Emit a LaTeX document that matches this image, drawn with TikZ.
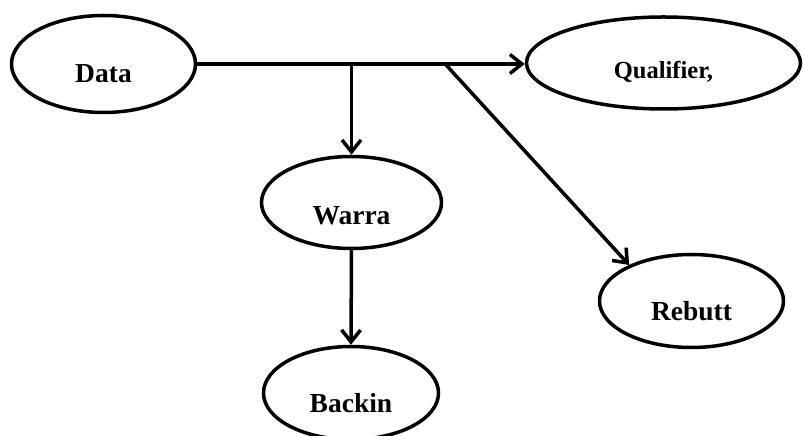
\documentclass[tikz,border=0pt]{standalone}
\usepackage{fontspec}
\setmainfont{Liberation Serif}
\usetikzlibrary{shapes.geometric,arrows.meta}
\begin{document}
\begin{tikzpicture}[x=1pt,y=1pt,
  oval/.style={draw, ellipse, line width=3.5pt, inner sep=0pt},
  lbl/.style={font=\bfseries\fontsize{27.5}{30}\selectfont, inner sep=0pt},
  conn/.style={line width=3.5pt, -{Straight Barb[length=12pt,width=19pt]}}]
\useasboundingbox (0,0) rectangle (804,436);
\node[oval, minimum width=184pt, minimum height=97pt,
  label={[lbl, yshift=-10pt]center:Data}] (data) at (103.5,372) {};
\node[oval, minimum width=274pt, minimum height=92pt,
  label={[lbl, font=\bfseries\fontsize{24.5}{28}\selectfont, yshift=-9pt]center:Qualifier,}] (qual) at (663.5,373) {};
\node[oval, minimum width=180pt, minimum height=92pt,
  label={[lbl, yshift=-13pt]center:Warra}] (warra) at (351.5,233.5) {};
\node[oval, minimum width=184pt, minimum height=93pt,
  label={[lbl, yshift=-10pt]center:Rebutt}] (rebutt) at (691.5,135) {};
\node[oval, minimum width=175pt, minimum height=93pt,
  label={[lbl, yshift=-10pt]center:Backin}] (backin) at (351,43) {};
\draw[conn] (data.east) -- (data.east -| qual.west);
\path (data.east) -- (data.east -| qual.west) coordinate[pos=0.757] (b2);
\coordinate (b1) at (data.east -| warra.north);
\draw[conn] (b1) -- (warra.north);
\draw[conn] (b2) -- (rebutt.150);
\draw[conn] (warra.south) -- (backin.north);
\end{tikzpicture}
\end{document}
